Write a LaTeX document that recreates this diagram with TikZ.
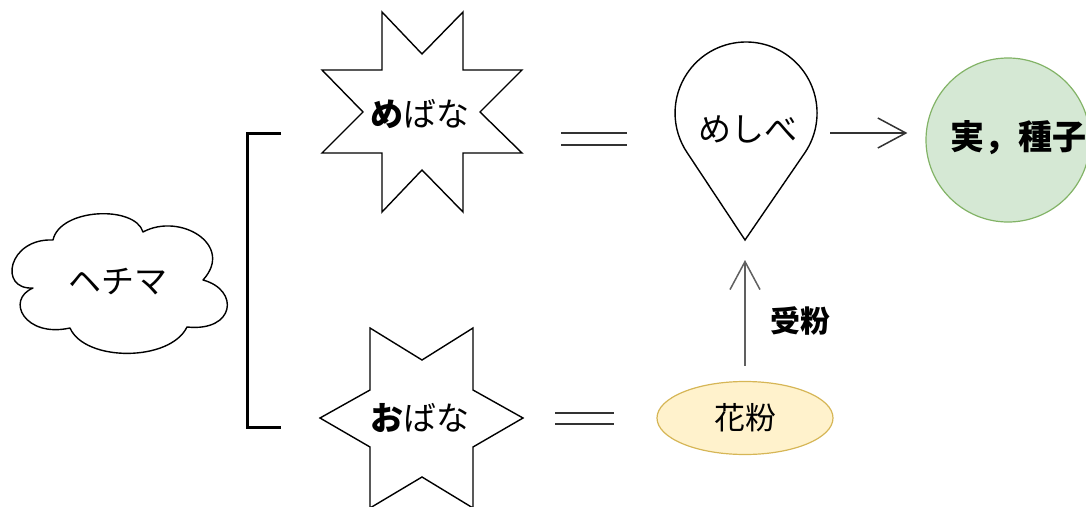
\documentclass[tikz,border=0pt]{standalone}
\usepackage{fontspec}
\setmainfont{Noto Sans CJK JP}
\usetikzlibrary{arrows.meta,calc,shapes.geometric}
\definecolor{fruitfill}{HTML}{D5E8D4}
\definecolor{fruitline}{HTML}{82B366}
\definecolor{pollenfill}{HTML}{FFF2CC}
\definecolor{pollenline}{HTML}{D6B656}
\definecolor{ink}{HTML}{333333}
\definecolor{grayink}{HTML}{606060}
\begin{document}
\begin{tikzpicture}[x=1pt,y=-1pt,
  lbl/.style={font=\fontsize{33}{35}\selectfont, text=black, inner sep=0pt},
  outline/.style={draw=black, line width=1.4pt, line join=miter},
  arr/.style={line width=1.5pt, -{Straight Barb[length=28pt,width=30pt]}},
  eqline/.style={line width=2pt, draw=ink}]
\useasboundingbox (0,0) rectangle (1086,506);

% cloud
\draw[outline, line join=round] (33,288)
  .. controls (-2,290) and (8,238) .. (53,240)
  .. controls (60,208) and (135,205) .. (143,232)
  .. controls (180,212) and (235,245) .. (203,280)
  .. controls (240,290) and (235,332) .. (187,327)
  .. controls (170,362) and (85,362) .. (70,328)
  .. controls (25,338) and (5,300) .. (33,288) -- cycle;
\node[lbl] (hechima) at (118,282) {ヘチマ};

% bracket
\draw[line width=3pt, line join=miter] (281,133) -- (247,133) -- (247,427) -- (281,427);

% 8-point star
\begin{scope}[shift={(422,112)}]
\draw[outline] (-40,-100) -- (0,-58) -- (41,-100) -- (41,-42) -- (100,-42) -- (58,0)
  -- (100,41) -- (41,41) -- (41,100) -- (0,58) -- (-40,100) -- (-40,41)
  -- (-100,41) -- (-59,0) -- (-100,-42) -- (-40,-42) -- cycle;
\end{scope}
\node[lbl] (mebana) at (420,114) {{\bfseries め}ばな};

% 6-point star
\begin{scope}[shift={(422,418)}]
\draw[outline] (-52,-90) -- (0,-58) -- (51,-90) -- (51,-28) -- (101,0) -- (51,29)
  -- (51,90) -- (0,59) -- (-52,90) -- (-52,29) -- (-102,0) -- (-52,-28) -- cycle;
\end{scope}
\node[lbl] (obana) at (420,418) {{\bfseries お}ばな};

% equals signs
\draw[eqline] (561,133) -- (627,133);
\draw[eqline] (561,145) -- (627,145);
\draw[eqline] (555,413) -- (614,413);
\draw[eqline] (555,424) -- (614,424);

% pin (pistil)
\node[circle, minimum size=142pt, inner sep=0pt] (pinhead) at (746,113) {};
\coordinate (pintip) at (745,240);
\draw[outline, line join=miter] (pintip) -- (746+58.9,113+39.7)
  arc[start angle=34, end angle=-214, radius=71] -- cycle;
\node[lbl] (pistil) at (748,129) {めしべ};

% fruit
\node[circle, minimum size=164pt, inner sep=0pt, fill=fruitfill, draw=fruitline,
  line width=1.2pt] (fruit) at (1008,140) {};
\node[lbl, font=\fontsize{34}{36}\selectfont\bfseries] (fruittext) at (1018,138) {実，種子};

% pollen
\node[ellipse, minimum width=176pt, minimum height=73pt, inner sep=0pt, fill=pollenfill,
  draw=pollenline, line width=1.2pt, font=\fontsize{31}{33}\selectfont] (pollen) at (745,418) {花粉};

% arrows
\draw[arr, draw=ink] ($(pinhead.east)+(13,20)$) -- ($(fruit.west)+(-18,-7)$);
\draw[arr, draw=grayink] ($(pollen.north)+(0,-15)$) -- ($(pintip)+(0,20)$);
\node[lbl, font=\fontsize{30}{32}\selectfont\bfseries] (jufun) at (800,321) {受粉};
\end{tikzpicture}
\end{document}
